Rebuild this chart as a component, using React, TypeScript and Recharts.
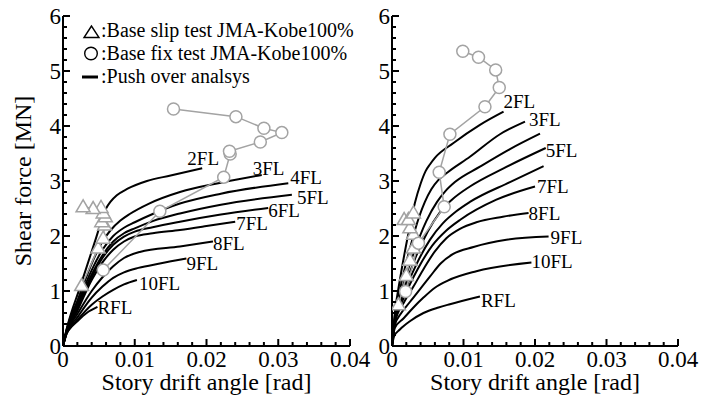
import React from 'react';
import { LineChart, Line, XAxis, YAxis } from 'recharts';

const FONT = '"Liberation Serif", "Times New Roman", Times, serif';
const GRAY = '#a3a3a3';

// axis ticks (minor + major), labels only on the major ones
const xTicks = [0, 0.002, 0.004, 0.006, 0.008, 0.01, 0.012, 0.014, 0.016, 0.018, 0.02, 0.022, 0.024, 0.026, 0.028, 0.03, 0.032, 0.034, 0.036, 0.038, 0.04];
const xMajor = [0, 0.01, 0.02, 0.03, 0.04];
const xTickLabels = ['0', '0.01', '0.02', '0.03', '0.04'];
const yTicks = [0, 0.2, 0.4, 0.6, 0.8, 1, 1.2, 1.4, 1.6, 1.8, 2, 2.2, 2.4, 2.6, 2.8, 3, 3.2, 3.4, 3.6, 3.8, 4, 4.2, 4.4, 4.6, 4.8, 5, 5.2, 5.4, 5.6, 5.8, 6];
const yMajor = [0, 1, 2, 3, 4, 5, 6];

// ---- left panel: push over analysis [drift, shear]
const L2FL = [[0, 0], [0.0005, 0.3], [0.0024, 1.08], [0.0045, 1.92], [0.006, 2.5], [0.0066, 2.62], [0.0075, 2.74], [0.009, 2.86], [0.0117, 3.0], [0.015, 3.1], [0.0194, 3.23]];
const L3FL = [[0, 0], [0.0005, 0.3], [0.002, 0.82], [0.004, 1.5], [0.0055, 1.9], [0.0066, 2.1], [0.008, 2.28], [0.0093, 2.4], [0.012, 2.59], [0.0163, 2.8], [0.022, 2.97], [0.0277, 3.11]];
const L4FL = [[0, 0], [0.0005, 0.28], [0.002, 0.76], [0.004, 1.38], [0.0055, 1.75], [0.007, 2.0], [0.0085, 2.15], [0.01, 2.25], [0.0125, 2.4], [0.0163, 2.59], [0.022, 2.77], [0.0314, 2.96]];
const L5FL = [[0, 0], [0.0005, 0.27], [0.002, 0.72], [0.004, 1.3], [0.0055, 1.65], [0.007, 1.9], [0.0085, 2.05], [0.01, 2.14], [0.0125, 2.27], [0.0163, 2.41], [0.022, 2.57], [0.0319, 2.75]];
const L6FL = [[0, 0], [0.0005, 0.26], [0.002, 0.68], [0.004, 1.25], [0.0055, 1.6], [0.007, 1.84], [0.0085, 1.99], [0.01, 2.08], [0.0125, 2.16], [0.0163, 2.26], [0.022, 2.39], [0.0286, 2.51]];
const L7FL = [[0, 0], [0.0005, 0.25], [0.002, 0.64], [0.004, 1.2], [0.0055, 1.52], [0.007, 1.75], [0.0085, 1.9], [0.01, 1.99], [0.0125, 2.05], [0.0163, 2.11], [0.02, 2.18], [0.024, 2.26]];
const L8FL = [[0, 0], [0.0005, 0.24], [0.002, 0.58], [0.004, 1.0], [0.0055, 1.25], [0.007, 1.45], [0.0085, 1.6], [0.0107, 1.71], [0.0163, 1.81], [0.0209, 1.9]];
const L9FL = [[0, 0], [0.0005, 0.23], [0.002, 0.52], [0.004, 0.88], [0.0055, 1.08], [0.007, 1.24], [0.0085, 1.34], [0.0105, 1.42], [0.0135, 1.5], [0.0172, 1.59]];
const L10FL = [[0, 0], [0.0005, 0.22], [0.002, 0.47], [0.004, 0.75], [0.0055, 0.9], [0.007, 1.02], [0.0085, 1.12], [0.0103, 1.2]];
const LRFL = [[0, 0], [0.0003, 0.18], [0.001, 0.32], [0.002, 0.45], [0.0033, 0.6], [0.0048, 0.71]];

const leftSlip = [[0.0026, 1.1], [0.0049, 1.78], [0.0056, 1.96], [0.0058, 2.2], [0.0054, 2.26], [0.0059, 2.35], [0.0056, 2.42], [0.0053, 2.52], [0.0042, 2.5], [0.0028, 2.53]];
const leftFix = [[0.0056, 1.38], [0.0135, 2.45], [0.0224, 3.07], [0.0233, 3.49], [0.0232, 3.54], [0.0275, 3.71], [0.0305, 3.88], [0.028, 3.96], [0.0241, 4.17], [0.0154, 4.31]];

// ---- right panel
const R2FL = [[0, 0], [0.0004, 0.6], [0.0011, 1.2], [0.0023, 2.05], [0.0032, 2.6], [0.004, 2.95], [0.0047, 3.18], [0.0053, 3.3], [0.006, 3.42], [0.0086, 3.69], [0.0123, 4.02], [0.0156, 4.26]];
const R3FL = [[0, 0], [0.0004, 0.55], [0.0012, 1.08], [0.0026, 1.82], [0.0038, 2.35], [0.0046, 2.62], [0.0055, 2.85], [0.0065, 3.02], [0.0078, 3.16], [0.0109, 3.44], [0.0151, 3.85], [0.0186, 4.08]];
const R4FL = [[0, 0], [0.0004, 0.5], [0.0013, 0.98], [0.003, 1.68], [0.0048, 2.27], [0.0063, 2.62], [0.0075, 2.82], [0.0088, 2.98], [0.0123, 3.26], [0.0165, 3.58], [0.0207, 3.86]];
const R5FL = [[0, 0], [0.0004, 0.48], [0.0014, 0.93], [0.0032, 1.58], [0.005, 2.08], [0.0067, 2.43], [0.0083, 2.65], [0.0109, 2.9], [0.0156, 3.23], [0.0215, 3.6]];
const R6FL = [[0, 0], [0.0004, 0.46], [0.0015, 0.9], [0.0034, 1.48], [0.0053, 1.93], [0.0071, 2.23], [0.009, 2.45], [0.0109, 2.62], [0.0165, 2.98], [0.0212, 3.27]];
const R7FL = [[0, 0], [0.0004, 0.44], [0.0016, 0.86], [0.0036, 1.4], [0.0056, 1.82], [0.0076, 2.1], [0.0096, 2.3], [0.0146, 2.66], [0.02, 2.9]];
const R8FL = [[0, 0], [0.0004, 0.42], [0.0017, 0.8], [0.003, 1.08], [0.0045, 1.42], [0.006, 1.72], [0.0076, 1.96], [0.0095, 2.13], [0.0118, 2.25], [0.0155, 2.35], [0.0191, 2.42]];
const R9FL = [[0, 0], [0.0004, 0.38], [0.0012, 0.58], [0.0025, 0.8], [0.0039, 1.03], [0.0053, 1.26], [0.0068, 1.5], [0.0085, 1.67], [0.0114, 1.8], [0.016, 1.93], [0.0219, 1.99]];
const R10FL = [[0, 0], [0.0004, 0.33], [0.0016, 0.5], [0.003, 0.7], [0.0044, 0.88], [0.006, 1.06], [0.0078, 1.19], [0.0118, 1.36], [0.0195, 1.52]];
const RRFL = [[0, 0], [0.0003, 0.18], [0.0011, 0.3], [0.0025, 0.45], [0.0044, 0.6], [0.0065, 0.7], [0.0081, 0.76], [0.0123, 0.9]];

const rightSlip = [[0.0009, 0.75], [0.002, 1.28], [0.0025, 1.56], [0.003, 1.78], [0.003, 2.03], [0.0025, 2.15], [0.0017, 2.3], [0.0023, 2.3], [0.003, 2.42]];
const rightFix = [[0.0019, 0.99], [0.0037, 1.87], [0.0073, 2.53], [0.0066, 3.16], [0.0081, 3.85], [0.013, 4.35], [0.015, 4.7], [0.0145, 5.02], [0.0121, 5.25], [0.0099, 5.36]];

const floors = ['2FL', '3FL', '4FL', '5FL', '6FL', '7FL', '8FL', '9FL', '10FL', 'RFL'];
const leftCurves = [L2FL, L3FL, L4FL, L5FL, L6FL, L7FL, L8FL, L9FL, L10FL, LRFL];
const rightCurves = [R2FL, R3FL, R4FL, R5FL, R6FL, R7FL, R8FL, R9FL, R10FL, RRFL];

// where each floor label sits relative to the curve end (px)
const leftLabelPos = {
  '2FL': { dx: 1, dy: -3, anchor: 'middle' },
  '3FL': { dx: -9, dy: 0 },
  '4FL': { dx: 2, dy: 1 },
  '5FL': { dx: 5, dy: 9 },
  '6FL': { dx: 0, dy: 9 },
  '7FL': { dx: 1, dy: 8 },
  '8FL': { dx: 0, dy: 8 },
  '9FL': { dx: 0, dy: 11 },
  '10FL': { dx: 2, dy: 10 },
  RFL: { dx: 0, dy: 7 },
};
const rightLabelPos = {
  '2FL': { dx: 0, dy: -4 },
  '3FL': { dx: 4, dy: 4 },
  '5FL': { dx: 0, dy: 9 },
  '7FL': { dx: 2, dy: 6 },
  '8FL': { dx: 0, dy: 7 },
  '9FL': { dx: 2, dy: 7 },
  '10FL': { dx: 0, dy: 6 },
  RFL: { dx: 1, dy: 10 },
};

const toPts = (arr: number[][]) => arr.map(([x, y]) => ({ x, y }));

function XTick(props: any) {
  const { x, y, payload } = props;
  const i = xMajor.findIndex((v) => Math.abs(v - payload.value) < 1e-9);
  const major = i >= 0;
  return (
    <g>
      <line x1={x} x2={x} y1={y} y2={y - (major ? 7 : 4)} stroke="#000" strokeWidth={2} />
      {major && (
        <text x={x} y={y + 21} textAnchor="middle" fontSize={23} fontFamily={FONT} fill="#000">
          {xTickLabels[i]}
        </text>
      )}
    </g>
  );
}

function YTick(props: any) {
  const { x, y, payload } = props;
  const i = yMajor.findIndex((v) => Math.abs(v - payload.value) < 1e-9);
  const major = i >= 0;
  return (
    <g>
      <line x1={x} x2={x + (major ? 7 : 4)} y1={y} y2={y} stroke="#000" strokeWidth={2} />
      {major && (
        <text x={x - 2} y={y + 8} textAnchor="end" fontSize={23} fontFamily={FONT} fill="#000">
          {yMajor[i]}
        </text>
      )}
    </g>
  );
}

const labelDot = (name: string, n: number, pos: any) => (p: any) => {
  if (!pos || p.index !== n - 1) return <g key={p.index} />;
  return (
    <text key={p.index} x={p.cx + pos.dx} y={p.cy + pos.dy} textAnchor={pos.anchor || 'start'} fontSize={19} fontFamily={FONT} fill="#000">
      {name}
    </text>
  );
};

const triangleDot = (p: any) => (
  <polygon
    key={p.index}
    points={`${p.cx},${p.cy - 7} ${p.cx - 7},${p.cy + 5} ${p.cx + 7},${p.cy + 5}`}
    fill="#fff"
    stroke={GRAY}
    strokeWidth={1.5}
  />
);

function Panel({ left, width, margin, yWidth, curves, labelPos, slip, fix }: any) {
  return (
    <div style={{ position: 'absolute', left, top: 0, width, height: 401 }}>
      <LineChart width={width} height={401} margin={margin} style={{ overflow: 'visible' }}>
        <XAxis
          type="number"
          dataKey="x"
          domain={[0, 0.04]}
          ticks={xTicks}
          interval={0}
          tickSize={0}
          tickMargin={0}
          tickLine={false}
          axisLine={{ stroke: '#000', strokeWidth: 2 }}
          height={55}
          tick={XTick}
          allowDataOverflow
          label={{ value: 'Story drift angle [rad]', position: 'insideBottom', offset: 11, fontSize: 24, fontFamily: FONT, fill: '#000' }}
        />
        <YAxis
          type="number"
          dataKey="y"
          domain={[0, 6]}
          ticks={yTicks}
          interval={0}
          tickSize={0}
          tickMargin={0}
          tickLine={false}
          axisLine={{ stroke: '#000', strokeWidth: 2 }}
          width={yWidth}
          tick={YTick}
          allowDataOverflow
        />
        {curves.map((c: number[][], i: number) => (
          <Line
            key={floors[i]}
            data={toPts(c)}
            dataKey="y"
            type="monotone"
            stroke="#000"
            strokeWidth={2}
            dot={labelDot(floors[i], c.length, labelPos[floors[i]])}
            activeDot={false}
            isAnimationActive={false}
          />
        ))}
        <Line data={toPts(slip)} dataKey="y" type="linear" stroke={GRAY} strokeWidth={1.5} dot={triangleDot} activeDot={false} isAnimationActive={false} />
        <Line
          data={toPts(fix)}
          dataKey="y"
          type="linear"
          stroke={GRAY}
          strokeWidth={1.5}
          dot={{ r: 6, fill: '#fff', stroke: GRAY, strokeWidth: 1.5 }}
          activeDot={false}
          isAnimationActive={false}
        />
      </LineChart>
    </div>
  );
}

export default function App() {
  return (
    <div style={{ position: 'absolute', left: 0, top: 0, width: 723, height: 401, background: '#fff', fontFamily: FONT }}>
      <Panel
        left={362}
        width={361}
        margin={{ top: 16, right: 45, bottom: 0, left: 0 }}
        yWidth={30}
        curves={rightCurves}
        labelPos={rightLabelPos}
        slip={rightSlip}
        fix={rightFix}
      />
      <Panel
        left={0}
        width={376}
        margin={{ top: 16, right: 26, bottom: 0, left: 23 }}
        yWidth={40}
        curves={leftCurves}
        labelPos={leftLabelPos}
        slip={leftSlip}
        fix={leftFix}
      />
      <svg width={723} height={401} style={{ position: 'absolute', left: 0, top: 0, pointerEvents: 'none' }}>
        <text x={31} y={181} transform="rotate(-90 31 181)" textAnchor="middle" fontSize={24} fontFamily={FONT} fill="#000">
          Shear force [MN]
        </text>
        <polygon points="91.5,26 84,37.5 99,37.5" fill="none" stroke="#000" strokeWidth={1.4} />
        <circle cx={91} cy={53.5} r={6.3} fill="none" stroke="#000" strokeWidth={1.4} />
        <line x1={82} x2={98} y1={77} y2={77} stroke="#000" strokeWidth={3} />
        <text x={101} y={37} fontSize={20} fontFamily={FONT} fill="#000">:Base slip test JMA-Kobe100%</text>
        <text x={101} y={60} fontSize={20} fontFamily={FONT} fill="#000">:Base fix test JMA-Kobe100%</text>
        <text x={101} y={83} fontSize={20} fontFamily={FONT} fill="#000">:Push over analsys</text>
      </svg>
    </div>
  );
}
